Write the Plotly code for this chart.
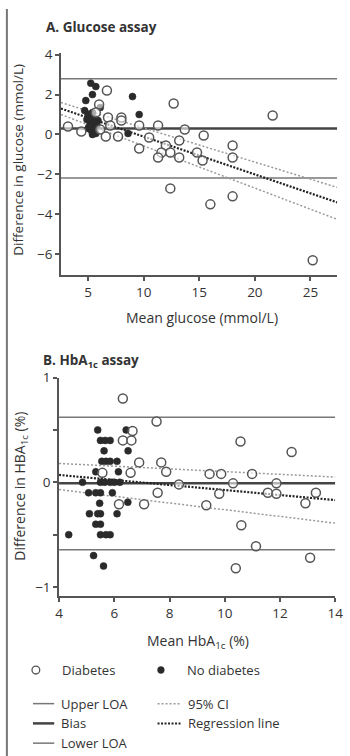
import plotly.graph_objects as go

# ---------------- Glucose assay (panel A) ----------------
glu_dm_x = [3.2, 4.4, 6.7, 6.0, 5.7, 6.8, 7.0, 6.1, 6.6, 7.7, 8.0, 8.0, 9.6, 9.6, 10.5,
            11.3, 12.7, 12.0, 11.6, 12.4, 11.3, 13.2, 13.7, 13.2, 14.8, 15.3, 15.4,
            18.0, 18.0, 21.6, 12.4, 16.0, 18.0, 25.2]
glu_dm_y = [0.4, 0.15, 2.2, 1.5, 1.1, 0.85, 0.45, 0.25, -0.1, -0.1, 0.85, 0.7, 0.45, -0.7, -0.15,
            0.45, 1.55, -0.55, -0.9, -0.9, -1.15, -0.3, 0.25, -1.15, -0.9, -1.3, -0.05,
            -0.55, -1.15, 0.95, -2.7, -3.5, -3.1, -6.3]
glu_nd_x = [5.25, 5.7, 5.4, 4.8, 6.1, 4.7, 5.0, 5.3, 5.6, 5.2, 5.5, 5.8, 5.0, 5.3, 5.6,
            5.4, 5.7, 5.1, 5.9, 5.4, 4.9, 5.6, 9.0, 9.6, 8.6]
glu_nd_y = [2.57, 2.4, 2.0, 1.7, 1.35, 1.2, 1.0, 0.9, 0.8, 0.6, 0.5, 0.45, 0.3, 0.2, 0.1,
            0.0, 0.05, 0.4, 0.7, 1.1, 0.75, 0.3, 1.9, 1.0, 0.05]
glu_loa = {"upper": 2.79, "bias": 0.3, "lower": -2.18}
glu_line_x = [2.57, 27.4]
glu_reg_y = [1.3, -3.4]
glu_ci_hi = [1.6, -2.65]
glu_ci_lo = [1.0, -4.25]

# ---------------- HbA1c assay (panel B) ----------------
hba_dm_x = [6.31, 7.53, 6.66, 6.31, 6.62, 6.9, 5.57, 6.59, 7.7, 7.88, 8.34, 7.57, 6.17, 7.08,
            9.45, 9.87, 9.33, 9.8, 10.3, 10.57, 10.99, 10.6, 11.13, 11.56, 11.87, 11.87,
            12.42, 12.92, 13.3, 13.09, 10.4]
hba_dm_y = [0.8, 0.58, 0.49, 0.4, 0.4, 0.19, 0.09, 0.09, 0.19, 0.1, -0.02, -0.1, -0.21, -0.21,
            0.08, 0.08, -0.22, -0.11, -0.01, 0.39, 0.08, -0.41, -0.61, -0.1, -0.11, -0.01,
            0.29, -0.2, -0.1, -0.72, -0.82]
hba_nd_x = [4.35, 5.25, 5.61, 6.49, 6.1,
            5.4, 6.43,
            5.5, 5.67, 5.85,
            5.63, 6.5,
            5.55, 5.7, 5.85, 6.1,
            5.33, 6.15,
            4.85, 5.5, 5.65, 5.85, 6.0, 6.2,
            5.07, 5.33, 5.5, 5.93,
            5.47,
            5.1, 5.4, 5.5,
            5.33, 5.5,
            5.5, 5.7, 5.85]
hba_nd_y = [-0.5, -0.7, -0.8, -0.19, -0.3,
            0.5, 0.5,
            0.4, 0.4, 0.4,
            0.3, 0.3,
            0.2, 0.2, 0.2, 0.2,
            0.1, 0.1,
            0.0, 0.0, 0.0, 0.0, 0.0, 0.0,
            -0.1, -0.1, -0.1, -0.1,
            -0.2,
            -0.3, -0.3, -0.3,
            -0.4, -0.4,
            -0.5, -0.5, -0.5]
hba_loa = {"upper": 0.62, "bias": -0.01, "lower": -0.645}
hba_line_x = [4.0, 14.0]
hba_reg_y = [0.07, -0.17]
hba_ci_hi = [0.18, 0.05]
hba_ci_lo = [-0.07, -0.39]

W, H = 350, 756
FONT = "Open Sans"
AX = "#555555"
TXT = "#333333"


def px(x):
    return x / W


def py(y):
    return 1 - y / H


fig = go.Figure()


def add_panel(xa, ya, line_x, loa, reg, ci_hi, ci_lo, dm_x, dm_y, nd_x, nd_y):
    # limits of agreement and bias
    for key, width, color in (("upper", 1.5, "#777777"), ("lower", 1.5, "#777777"),
                              ("bias", 2.5, "#444444")):
        fig.add_trace(go.Scatter(x=line_x, y=[loa[key]] * 2, mode="lines",
                                 line=dict(color=color, width=width),
                                 xaxis=xa, yaxis=ya, showlegend=False, hoverinfo="skip"))
    # confidence band and regression line
    for yy in (ci_hi, ci_lo):
        fig.add_trace(go.Scatter(x=line_x, y=yy, mode="lines",
                                 line=dict(color="#9a9a9a", width=1.5, dash="2px,2px"),
                                 xaxis=xa, yaxis=ya, showlegend=False, hoverinfo="skip"))
    fig.add_trace(go.Scatter(x=line_x, y=reg, mode="lines",
                             line=dict(color="#222222", width=2.2, dash="2px,1.5px"),
                             xaxis=xa, yaxis=ya, showlegend=False, hoverinfo="skip"))
    # observations
    fig.add_trace(go.Scatter(x=nd_x, y=nd_y, mode="markers",
                             marker=dict(size=7, color="#2a2a2a",
                                         line=dict(color="#2a2a2a", width=0.5)),
                             xaxis=xa, yaxis=ya, showlegend=False))
    fig.add_trace(go.Scatter(x=dm_x, y=dm_y, mode="markers",
                             marker=dict(size=9, color="rgba(255,255,255,0.6)",
                                         line=dict(color="#555555", width=1.5)),
                             xaxis=xa, yaxis=ya, showlegend=False))


add_panel("x", "y", glu_line_x, glu_loa, glu_reg_y, glu_ci_hi, glu_ci_lo,
          glu_dm_x, glu_dm_y, glu_nd_x, glu_nd_y)
add_panel("x2", "y2", hba_line_x, hba_loa, hba_reg_y, hba_ci_hi, hba_ci_lo,
          hba_dm_x, hba_dm_y, hba_nd_x, hba_nd_y)

axis_common = dict(showline=True, linecolor=AX, linewidth=1.5, ticks="outside",
                   ticklen=4, tickwidth=1.5, tickcolor=AX, showgrid=False, zeroline=False,
                   tickfont=dict(family=FONT, size=13.5, color=TXT), fixedrange=True,
                   ticklabeloverflow="allow")

fig.update_layout(
    width=W, height=H, margin=dict(l=0, r=0, t=0, b=0),
    paper_bgcolor="white", plot_bgcolor="white", showlegend=False,
    font=dict(family=FONT, color=TXT),
    xaxis=dict(domain=[px(59), px(345)], range=[glu_line_x[0], glu_line_x[1]],
               tickvals=[5, 10, 15, 20, 25], anchor="y", **axis_common),
    yaxis=dict(domain=[py(269), py(45)], range=[-7.03, 4.06],
               tickvals=[-6, -4, -2, 0, 2, 4], anchor="x", **axis_common),
    xaxis2=dict(domain=[px(57), px(343)], range=[hba_line_x[0], hba_line_x[1]],
                tickvals=[4, 6, 8, 10, 12, 14], anchor="y2", **axis_common),
    yaxis2=dict(domain=[py(594), py(373)], range=[-1.085, 1.0],
                tickvals=[-1, 0, 1],
                minor=dict(tickvals=[-0.5, 0.5], ticks="outside", ticklen=4,
                           tickwidth=1.5, tickcolor=AX),
                anchor="x2", **axis_common),
)


def label(text, x, y, size=13, xanchor="left", angle=0):
    fig.add_annotation(text=text, x=px(x), y=py(y), xref="paper", yref="paper",
                       showarrow=False, xanchor=xanchor, yanchor="middle",
                       textangle=angle, font=dict(family=FONT, size=size, color=TXT))


# panel titles and axis titles
label("<b>A. Glucose assay</b>", 41, 18, size=13.5)
label("<b>B. HbA<sub>1c</sub> assay</b>", 38, 356, size=13.5)
label("Difference in glucose (mmol/L)", 15, 152, size=13.5, xanchor="center", angle=-90)
label("Difference in HBA<sub>1c</sub> (%)", 17, 483, size=14, xanchor="center", angle=-90)
label("Mean glucose (mmol/L)", 205, 312, size=14, xanchor="center")
label("Mean HbA<sub>1c</sub> (%)", 201, 640, size=14, xanchor="center")

# key
shapes = [
    dict(type="line", xref="paper", yref="paper", x0=px(3), x1=px(3), y0=0, y1=1,
         line=dict(color="#777777", width=2)),
    dict(type="circle", xref="paper", yref="paper", x0=px(29), x1=px(37),
         y0=py(673), y1=py(665), line=dict(color="#555555", width=1.3), fillcolor="white"),
    dict(type="circle", xref="paper", yref="paper", x0=px(159), x1=px(166),
         y0=py(672.5), y1=py(665.5), line=dict(color="#2a2a2a", width=0.5),
         fillcolor="#2a2a2a"),
    dict(type="line", xref="paper", yref="paper", x0=px(30), x1=px(52), y0=py(703),
         y1=py(703), line=dict(color="#777777", width=1.5)),
    dict(type="line", xref="paper", yref="paper", x0=px(30), x1=px(52), y0=py(723),
         y1=py(723), line=dict(color="#444444", width=2.5)),
    dict(type="line", xref="paper", yref="paper", x0=px(30), x1=px(52), y0=py(743),
         y1=py(743), line=dict(color="#777777", width=1.5)),
    dict(type="line", xref="paper", yref="paper", x0=px(159), x1=px(183), y0=py(703),
         y1=py(703), line=dict(color="#9a9a9a", width=1.5, dash="2px,2px")),
    dict(type="line", xref="paper", yref="paper", x0=px(159), x1=px(183), y0=py(723),
         y1=py(723), line=dict(color="#222222", width=2, dash="2px,1.5px")),
]
fig.update_layout(shapes=shapes)

label("Diabetes", 58, 669)
label("No diabetes", 187, 669)
label("Upper LOA", 57, 703)
label("Bias", 57, 723)
label("Lower LOA", 57, 743)
label("95% CI", 188, 703)
label("Regression line", 188, 723)

fig.write_html("out.html")
